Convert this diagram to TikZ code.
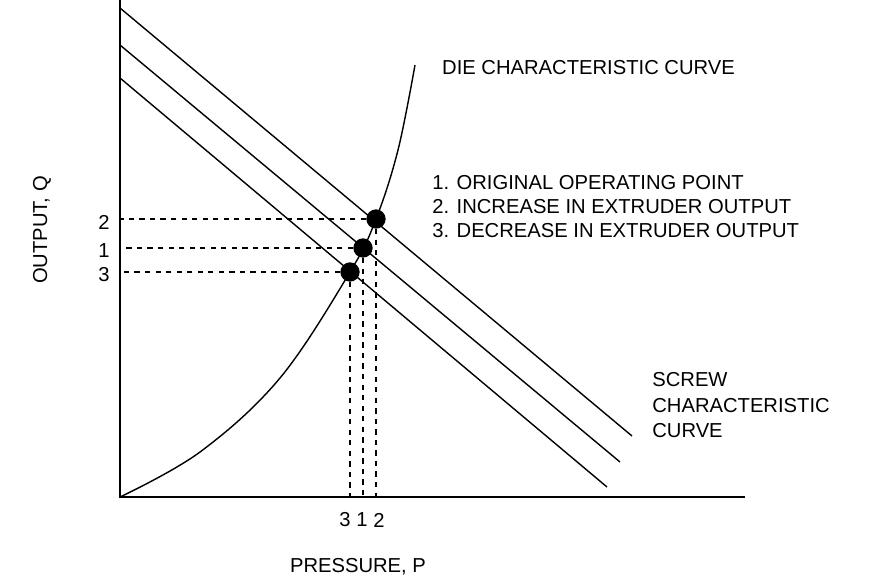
\documentclass[tikz,border=0pt]{standalone}
\usepackage{fontspec}
\setmainfont{Liberation Sans}
\begin{document}
\begin{tikzpicture}[x=0.02cm, y=-0.02cm,
  every node/.style={font=\fontsize{11.5}{13}\selectfont},
  line/.style={line width=0.8pt},
  guide/.style={dashed, line width=0.6pt},
  dot/.style={circle, fill=black, inner sep=0pt, minimum size=11pt}]
\useasboundingbox (0,0) rectangle (876,585);
% axes
\coordinate (o) at (120,497);
\coordinate (ytop) at (120,0);
\coordinate (xend) at (745,497);
\draw[line] (ytop) -- (o) -- (xend);
% screw characteristic curves
\draw[line] (120,8) coordinate (a0) -- (632,436) coordinate (a1);
\draw[line] (120,45) coordinate (b0) -- (620,462) coordinate (b1);
\draw[line] (120,78) coordinate (c0) -- (607,487) coordinate (c1);
% die characteristic curve
\draw[line] plot[smooth, tension=0.6] coordinates {(120,497) (200,452) (280,378) (350,272) (376,219) (398,150) (415,65)};
% operating points
\foreach \n/\x/\y/\lx in {3/350/272/345, 1/363/248/362, 2/376/219/379} {
  \node (p\n) [dot] at (\x,\y) {};
  \node (ql\n) at (104,\y+3) {\n};
  \node (pl\n) at (\lx,520) {\n};
  \draw[guide] (p\n) -- (120,\y);
  \draw[guide] (p\n) -- (\x,497);
}
\node (xlab) at (358,567) {PRESSURE, P};
\node (ylab) [rotate=90] at (42,230) {OUTPUT, Q};
\node (die) [anchor=west] at (436,68) {DIE CHARACTERISTIC CURVE};
\node (key) [anchor=north west, align=left, inner sep=0pt, font=\fontsize{11.5}{13.6}\selectfont] at (432,175)
  {1. ORIGINAL OPERATING POINT\\2. INCREASE IN EXTRUDER OUTPUT\\3. DECREASE IN EXTRUDER OUTPUT};
\node (screw) [anchor=north west, align=left, inner sep=0pt, font=\fontsize{11.5}{14.6}\selectfont] at (652,372)
  {SCREW\\CHARACTERISTIC\\CURVE};
\end{tikzpicture}
\end{document}
